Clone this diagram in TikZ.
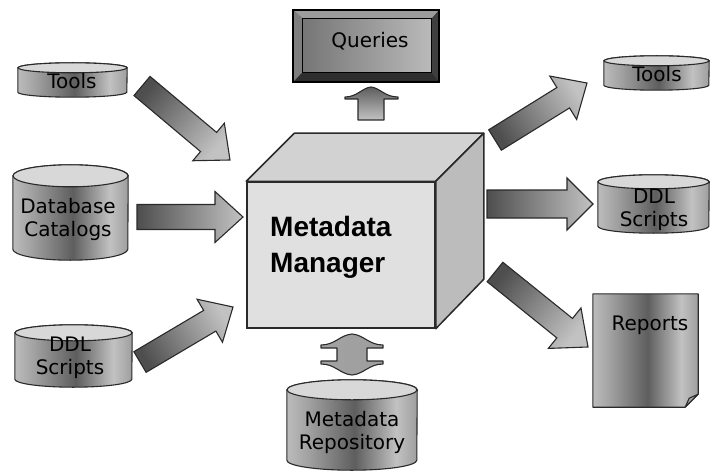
\documentclass[tikz,border=0pt]{standalone}
\usepackage{fontspec}
\newfontfamily\lblfont{DejaVu Sans}
\newfontfamily\mmfont{Liberation Sans}
\usetikzlibrary{calc,fit}

\definecolor{edge}{HTML}{2A2A2A}
\definecolor{cylA}{HTML}{BCBCBC}
\definecolor{cylB}{HTML}{A2A2A2}
\definecolor{cylC}{HTML}{5E5E5E}
\definecolor{cylD}{HTML}{C2C2C2}
\definecolor{cylE}{HTML}{9E9E9E}
\definecolor{cyltop}{HTML}{D8D8D8}
\definecolor{arrowDark}{HTML}{4E4E4E}
\definecolor{arrowLight}{HTML}{C2C2C2}
\definecolor{cubefront}{HTML}{E0E0E0}
\definecolor{cubetop}{HTML}{D2D2D2}
\definecolor{cubeside}{HTML}{BCBCBC}
\definecolor{qbevelT}{HTML}{9C9C9C}
\definecolor{qbevelL}{HTML}{7E7E7E}
\definecolor{qbevelR}{HTML}{3E3E3E}
\definecolor{qbevelB}{HTML}{2E2E2E}
\definecolor{qfaceL}{HTML}{767676}
\definecolor{qfaceR}{HTML}{BABABA}

% cylinder body: light at the left, dark just right of centre, light again
\pgfdeclarehorizontalshading{cylshade}{100bp}{color(0bp)=(cylA); color(25bp)=(cylA);
  color(33bp)=(cylB); color(51bp)=(cylC); color(67bp)=(cylD); color(75bp)=(cylE); color(100bp)=(cylE)}

\tikzset{
  lbl/.style={font=\lblfont\fontsize{20}{23}\selectfont, align=center, inner sep=0pt},
  outline/.style={draw=edge, line width=1.1pt},
}

% database drum: name, left, top, right, bottom, half height of the end ellipses
\newcommand\drum[6]{%
  \node[fit={(#2,#3) (#4,#5)}, inner sep=0pt] (#1) {};
  \pgfmathsetmacro\drumrx{(#4-#2)/2}%
  \shade[shading=cylshade, outline]
    ($(#1.north west)+(0,#6)$) -- ($(#1.south west)+(0,-#6)$)
    arc[start angle=180, end angle=360, x radius=\drumrx pt, y radius=#6pt]
    -- ($(#1.north east)+(0,#6)$)
    arc[start angle=0, end angle=180, x radius=\drumrx pt, y radius=#6pt] -- cycle;
  \draw[fill=cyltop, outline] ($(#1.north)+(0,#6)$)
    ellipse[x radius=\drumrx pt, y radius=#6pt];
}

% block arrow: tail, tip, shaft half width, head half width, head length
\newcommand\fatarrow[5]{%
  \pgfmathanglebetweenpoints{\pgfpointanchor{#1}{center}}{\pgfpointanchor{#2}{center}}%
  \pgfmathsetmacro\fashade{\pgfmathresult-90}%
  \coordinate (fa-neck) at ($(#2)!#5pt!(#1)$);
  \shade[top color=arrowLight, bottom color=arrowDark, shading angle=\fashade, outline]
    ($(#1)!#3pt!90:(#2)$) -- ($(fa-neck)!#3pt!90:(#2)$) -- ($(fa-neck)!#4pt!90:(#2)$)
    -- (#2) -- ($(fa-neck)!#4pt!-90:(#2)$) -- ($(fa-neck)!#3pt!-90:(#2)$)
    -- ($(#1)!#3pt!-90:(#2)$) -- cycle;
}

\begin{document}
\begin{tikzpicture}[x=1pt, y=-1pt]
\useasboundingbox (0,0) rectangle (711,473);
\fill[white] (0,0) rectangle (711,473);

% ---- central cube ----
\node[fill=cubefront, draw=edge, line width=1.5pt, minimum width=188pt,
      minimum height=146pt, inner sep=0pt] (mm) at (341,255) {};
\draw[fill=cubetop, draw=edge, line width=1.5pt, line join=round]
  (mm.north west) -- ++(48,-48) -- ($(mm.north east)+(48,-48)$) -- (mm.north east) -- cycle;
\draw[fill=cubeside, draw=edge, line width=1.5pt, line join=round]
  (mm.north east) -- ++(48,-48) -- ++(0,146) -- (mm.south east) -- cycle;
\node[anchor=north west, align=left, inner sep=0pt,
      font=\mmfont\bfseries\fontsize{28}{36}\selectfont] (mm-t) at (270,216) {Metadata\\Manager};

% ---- sources on the left ----
\drum{toolsL}{18}{63}{127}{97}{5}
\node[lbl] (toolsL-t) at (72,81) {Tools};
\drum{dbcat}{13}{165}{128}{260}{11}
\node[lbl] (dbcat-t) at (68,219) {Database\\Catalogs};
\drum{ddlL}{15}{325}{132}{387}{8}
\node[lbl] (ddlL-t) at (70,358) {DDL\\Scripts};

% ---- targets on the right ----
\drum{toolsR}{604}{56}{709}{90}{5}
\node[lbl] (toolsR-t) at (657,74) {Tools};
\drum{ddlR}{598}{175}{709}{233}{7}
\node[lbl] (ddlR-t) at (654,210) {DDL\\Scripts};

\node[fit={(593,294) (698,407)}, inner sep=0pt] (rep) {};
\shade[shading=cylshade, outline, line join=round]
  (rep.north west) -- (rep.north east) -- ($(rep.south east)+(0,-13)$)
  -- ($(rep.south east)+(-13,0)$) -- (rep.south west) -- cycle;
\draw[fill=cylB, outline, line join=round]
  ($(rep.south east)+(0,-13)$) -- ($(rep.south east)+(-13,0)$) -- ($(rep.south east)+(-9,-9)$) -- cycle;
\node[lbl] (rep-t) at (650,325) {Reports};

% ---- queries button ----
\node[minimum width=146pt, minimum height=72pt, inner sep=0pt] (q) at (366,46) {};
\fill[qbevelB] (q.north west) rectangle (q.south east);
\fill[qbevelR] (q.north east) -- (q.south east) -- ++(-8,-10) -- ++(0,-53) -- cycle;
\fill[qbevelT] (q.north west) -- (q.north east) -- ++(-8,9) -- ($(q.north west)+(10,9)$) -- cycle;
\fill[qbevelL] (q.north west) -- ++(10,9) -- ++(0,53) -- (q.south west) -- cycle;
\shade[left color=qfaceL, right color=qfaceR, draw=black, line width=0.8pt]
  ($(q.north west)+(10,9)$) rectangle ($(q.south east)+(-8,-10)$);
\draw[black, line width=1.6pt] (q.north west) rectangle (q.south east);
\node[lbl] (q-t) at (370,41) {Queries};

% ---- repository ----
\drum{repo}{287}{380}{417}{470}{10}
\node[lbl] (repo-t) at (352,432) {Metadata\\Repository};

% ---- block arrows ----
\coordinate (a1s) at (142,86);  \coordinate (a1e) at (230,160);
\coordinate (a2s) at (137,217); \coordinate (a2e) at (243,217);
\coordinate (a3s) at (140,362); \coordinate (a3e) at (233,307);
\coordinate (a4s) at (495,140); \coordinate (a4e) at (587,83);
\coordinate (a5s) at (487,204); \coordinate (a5e) at (593,204);
\coordinate (a6s) at (495,272); \coordinate (a6e) at (588,347);
\fatarrow{a1s}{a1e}{12.5}{24.5}{28}
\fatarrow{a2s}{a2e}{12.5}{25.5}{28}
\fatarrow{a3s}{a3e}{12}{25}{27}
\fatarrow{a4s}{a4e}{12}{25.5}{28}
\fatarrow{a5s}{a5e}{14}{26}{26}
\fatarrow{a6s}{a6e}{12.5}{26}{30}

% arrow up to the queries button
\coordinate (qa) at (371,87);
\shade[top color=cylC, bottom color=arrowLight, outline, line join=round]
  ($(qa)+(-13,33)$) -- ($(qa)+(-13,12)$) -- ($(qa)+(-26,12)$) -- ($(qa)+(-26,10)$)
  .. controls ($(qa)+(-14,10)$) and ($(qa)+(-9,1)$) .. (qa)
  .. controls ($(qa)+(9,1)$) and ($(qa)+(14,10)$) .. ($(qa)+(27,10)$)
  -- ($(qa)+(27,12)$) -- ($(qa)+(13,12)$) -- ($(qa)+(13,33)$) -- cycle;

% two-way arrow between the cube and the repository
\coordinate (ra) at (352,334);
\coordinate (rb) at (352,375);
\shade[left color=cylB, middle color=cylC, right color=cylE, outline, line join=round]
  (ra) .. controls ($(ra)+(12,1)$) and ($(ra)+(17,11)$) .. ($(ra)+(31,11)$)
  -- ($(ra)+(31,14)$) -- ($(ra)+(15,14)$) -- ($(rb)+(15,-14)$) -- ($(rb)+(31,-14)$)
  -- ($(rb)+(31,-11)$) .. controls ($(rb)+(17,-11)$) and ($(rb)+(12,-1)$) .. (rb)
  .. controls ($(rb)+(-12,-1)$) and ($(rb)+(-17,-11)$) .. ($(rb)+(-31,-11)$)
  -- ($(rb)+(-31,-14)$) -- ($(rb)+(-15,-14)$) -- ($(ra)+(-15,14)$) -- ($(ra)+(-31,14)$)
  -- ($(ra)+(-31,11)$) .. controls ($(ra)+(-17,11)$) and ($(ra)+(-12,1)$) .. (ra) -- cycle;
\end{tikzpicture}
\end{document}
